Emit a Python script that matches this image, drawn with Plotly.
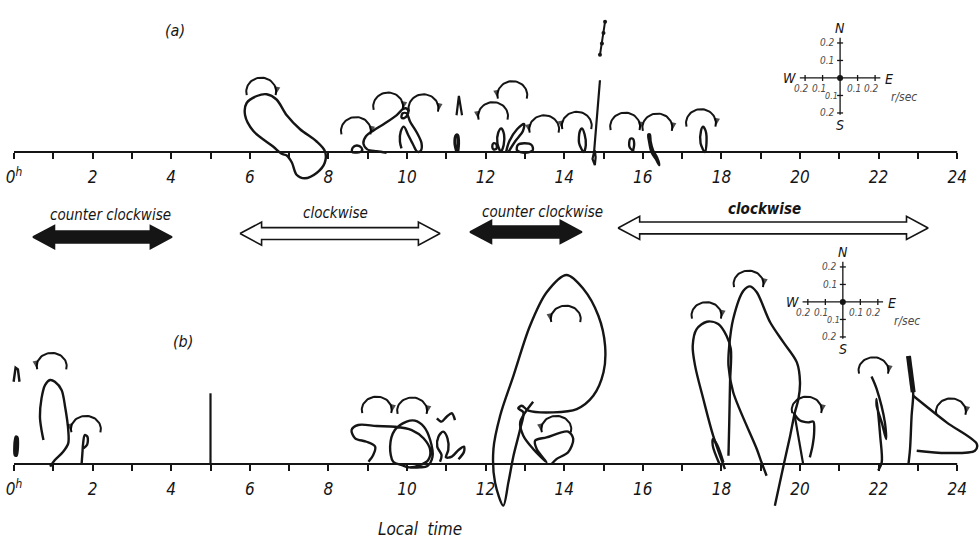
import numpy as np
import plotly.graph_objects as go

# ---------------------------------------------------------------
# Local-time axis
# ---------------------------------------------------------------
hour_ticks = [0, 2, 4, 6, 8, 10, 12, 14, 16, 18, 20, 22, 24]
hour_text = ["0<sup>h</sup>", "2", "4", "6", "8", "10", "12", "14", "16", "18", "20", "22", "24"]

# ---------------------------------------------------------------
# (a) hodograph traces: local time [h] , velocity offset [r/sec]
# ---------------------------------------------------------------
a_loop1_t = [6.81, 6.60, 6.09, 5.88, 5.92, 6.18, 6.43, 6.68, 6.94, 7.28, 7.70, 7.91, 7.91, 7.70, 7.40, 7.19, 7.07, 6.94, 6.81]
a_loop1_v = [-0.01, 0.03, 0.12, 0.21, 0.28, 0.32, 0.33, 0.30, 0.21, 0.13, 0.06, 0.005, -0.06, -0.12, -0.15, -0.13, -0.06, -0.02, -0.01]
a_loop2_t = [8.60, 8.62, 8.72, 8.84, 8.85, 8.72, 8.60]
a_loop2_v = [0.0, 0.025, 0.037, 0.025, 0.005, -0.003, 0.0]
a_loop3_t = [9.48, 9.23, 8.99, 8.89, 8.96, 9.14, 9.44, 9.74, 9.89, 9.97, 10.03, 10.01, 9.92, 9.86, 9.89, 9.99,
             10.08, 10.26, 10.37, 10.35, 10.26, 10.16, 10.03, 9.92, 9.84, 9.82, 9.86]
a_loop3_v = [-0.004, 0.004, 0.015, 0.05, 0.091, 0.122, 0.164, 0.211, 0.244, 0.25, 0.236, 0.211, 0.193, 0.198, 0.221, 0.221,
             0.173, 0.107, 0.05, 0.007, 0.002, 0.04, 0.097, 0.145, 0.116, 0.059, 0.021]
a_loop4_t = [11.27, 11.22, 11.25, 11.29, 11.31, 11.29]
a_loop4_v = [0.0, 0.05, 0.095, 0.095, 0.05, 0.0]
a_loop5_t = [11.26, 11.32, 11.40]
a_loop5_v = [0.21, 0.32, 0.21]
a_loop6_t = [12.17, 12.20, 12.27, 12.28, 12.20, 12.17]
a_loop6_v = [0.03, 0.05, 0.045, 0.02, 0.015, 0.03]
a_loop7_t = [12.38, 12.30, 12.32, 12.40, 12.47, 12.46, 12.40]
a_loop7_v = [0.0, 0.05, 0.11, 0.135, 0.10, 0.04, 0.0]
a_loop8_t = [12.52, 12.60, 12.80, 12.98, 12.95, 12.75, 12.58]
a_loop8_v = [0.0, 0.06, 0.13, 0.16, 0.12, 0.06, 0.0]
a_loop9_t = [12.80, 12.82, 12.98, 13.17, 13.20, 13.00, 12.80]
a_loop9_v = [0.01, 0.04, 0.05, 0.04, 0.01, -0.005, 0.01]
a_loop10_t = [14.50, 14.38, 14.40, 14.45, 14.52, 14.55, 14.50]
a_loop10_v = [0.0, 0.05, 0.12, 0.135, 0.10, 0.04, 0.0]
a_loop11_t = [14.91, 14.76, 14.72, 14.78, 14.80, 14.78]
a_loop11_v = [0.41, 0.0, -0.04, -0.075, -0.03, 0.01]
a_loop12_t = [14.91, 14.96, 15.00, 15.04]
a_loop12_v = [0.555, 0.62, 0.68, 0.745]
a_loop13_t = [15.78, 15.66, 15.68, 15.75, 15.78, 15.74]
a_loop13_v = [0.0, 0.03, 0.075, 0.075, 0.04, 0.0]
a_loop14_t = [16.18, 16.14, 16.16, 16.22, 16.33, 16.42, 16.36, 16.26, 16.20, 16.18]
a_loop14_v = [0.10, 0.10, 0.06, 0.0, -0.04, -0.075, -0.03, 0.01, 0.06, 0.10]
a_loop15_t = [17.58, 17.47, 17.48, 17.53, 17.60, 17.62, 17.58]
a_loop15_v = [0.0, 0.05, 0.12, 0.145, 0.12, 0.05, 0.0]

# sense-of-rotation arcs above the (a) hodographs
a_arc_t = [6.29, 8.70, 9.52, 10.42, 12.19, 12.68, 13.49, 14.32, 15.55, 16.37, 17.48]
a_arc_v = [0.345, 0.12, 0.26, 0.25, 0.205, 0.325, 0.13, 0.15, 0.145, 0.14, 0.165]
a_arc_sense = ["cw", "cw", "cw", "cw", "ccw", "ccw", "ccw", "ccw", "cw", "cw", "cw"]

# ---------------------------------------------------------------
# (b) hodograph traces
# ---------------------------------------------------------------
b_loop1_t = [0.03, 0.05, 0.08, 0.06, 0.03]
b_loop1_v = [0.05, 0.155, 0.15, 0.05, 0.05]
b_loop2_t = [-0.01, 0.04, 0.10, 0.14]
b_loop2_v = [0.47, 0.55, 0.54, 0.47]
b_loop3_t = [0.92, 1.04, 1.25, 1.38, 1.38, 1.30, 1.21, 1.04, 0.92, 0.79, 0.70, 0.66, 0.70, 0.75]
b_loop3_v = [-0.015, 0.023, 0.07, 0.118, 0.194, 0.327, 0.423, 0.47, 0.48, 0.451, 0.375, 0.27, 0.194, 0.137]
b_loop4_t = [1.72, 1.74, 1.76, 1.80, 1.87, 1.86, 1.77]
b_loop4_v = [0.0, 0.06, 0.12, 0.165, 0.155, 0.11, 0.09]
b_loop5_t = [5.00, 5.00]
b_loop5_v = [0.404, 0.0]
b_loop6_t = [9.02, 9.14, 9.19, 8.97, 8.68, 8.59, 8.76, 9.23, 9.69, 10.12, 10.42, 10.59, 10.54, 10.33, 10.03, 9.87,
             9.65, 9.57, 9.69, 9.99, 10.20, 10.43, 10.59, 10.65, 10.52, 10.33, 10.08]
b_loop6_v = [0.013, 0.051, 0.099, 0.127, 0.147, 0.194, 0.223, 0.217, 0.213, 0.194, 0.147, 0.08, 0.023, -0.006, -0.019, -0.006,
             0.013, 0.099, 0.194, 0.242, 0.248, 0.213, 0.137, 0.042, -0.011, -0.019, -0.02]
b_loop7_t = [10.84, 10.88, 10.77, 10.80, 10.92, 11.03, 11.05, 10.99, 11.14, 11.31, 11.45, 11.45, 11.31]
b_loop7_v = [0.013, 0.051, 0.099, 0.156, 0.185, 0.147, 0.08, 0.038, 0.042, 0.08, 0.099, 0.07, 0.027]
b_loop8_t = [10.76, 10.88, 11.01, 11.14, 11.22]
b_loop8_v = [0.261, 0.242, 0.27, 0.29, 0.251]
b_loop9_t = [14.06, 13.55, 13.13, 12.71, 12.37, 12.20, 12.24, 12.45, 12.58, 12.71, 12.88, 12.96, 12.83, 12.92, 13.09,
             13.72, 14.32, 14.74, 15.00, 15.04, 14.87, 14.49, 14.06]
b_loop9_v = [1.08, 0.98, 0.79, 0.505, 0.276, 0.086, -0.105, -0.238, -0.105, 0.047, 0.20, 0.295, 0.318, 0.333, 0.305,
             0.295, 0.314, 0.39, 0.524, 0.676, 0.847, 1.0, 1.08]
b_loop10_t = [13.21, 12.88, 12.96, 13.21, 13.55, 13.30, 13.26, 13.55, 14.10, 14.23, 14.10, 13.81, 13.68]
b_loop10_v = [0.356, 0.238, 0.162, 0.086, 0.01, 0.086, 0.133, 0.152, 0.185, 0.143, 0.067, 0.029, 0.0]
b_loop11_t = [18.09, 17.79, 17.54, 17.33, 17.27, 17.37, 17.63, 17.92, 18.13, 18.24, 18.22, 18.20, 18.18]
b_loop11_v = [-0.029, 0.162, 0.371, 0.562, 0.676, 0.771, 0.813, 0.80, 0.733, 0.657, 0.467, 0.238, 0.047]
b_loop12_t = [17.95, 17.78, 17.79, 17.90, 18.05]
b_loop12_v = [0.0, 0.105, 0.143, 0.105, 0.01]
b_loop13_t = [19.15, 19.02, 18.90, 18.30, 18.18, 18.20, 18.30, 18.56, 18.73, 18.90, 19.24, 19.58, 19.92, 20.00,
              19.96, 19.87, 19.75, 19.58, 19.36]
b_loop13_v = [-0.067, 0.01, 0.086, 0.41, 0.562, 0.676, 0.829, 0.99, 1.015, 0.981, 0.81, 0.695, 0.581, 0.467,
              0.371, 0.295, 0.162, -0.01, -0.238]
b_loop14_t = [19.83, 20.00, 20.21, 20.34, 20.36, 20.32, 20.25]
b_loop14_v = [0.295, 0.248, 0.238, 0.242, 0.181, 0.105, 0.038]
b_loop15_t = [19.87, 20.08]
b_loop15_v = [0.27, 0.0]
b_loop16_t = [21.82, 21.95, 22.16, 22.19, 22.08, 21.95, 21.95, 22.04, 22.08, 21.99]
b_loop16_v = [0.50, 0.429, 0.238, 0.143, 0.238, 0.333, 0.371, 0.162, 0.01, -0.038]
b_loop17_t = [22.76, 22.88, 22.84, 22.80, 22.76]
b_loop17_v = [0.617, 0.41, 0.276, 0.086, 0.0]
b_loop18_t = [22.88, 23.73, 24.50, 24.45, 23.73, 22.97]
b_loop18_v = [0.39, 0.238, 0.114, 0.076, 0.063, 0.076]

b_arc_t = [0.96, 1.83, 9.23, 10.13, 13.80, 14.04, 17.62, 18.69, 20.17, 21.87, 23.84]
b_arc_v = [0.56, 0.20, 0.31, 0.305, 0.20, 0.83, 0.85, 1.03, 0.31, 0.535, 0.30]
b_arc_sense = ["ccw", "ccw", "cw", "cw", "ccw", "ccw", "cw", "cw", "cw", "cw", "cw"]

# rotation-sense intervals shown between the panels
band_start = [0.48, 5.75, 11.60, 15.37]
band_end = [4.02, 10.84, 14.45, 23.26]
band_label = ["counter clockwise", "clockwise", "counter clockwise", "clockwise"]
band_filled = [True, False, True, False]

# ---------------------------------------------------------------
# geometry / style
# ---------------------------------------------------------------
W, H = 979, 550
PX_PER_HOUR = 39.3
PX_PER_RSEC = 175.0
X0_PX = 14
BASE_A_PX = 152
BASE_B_PX = 464
HOURS_PER_RSEC = PX_PER_RSEC / PX_PER_HOUR

INK = "#151515"
GREY = "#4a4a4a"
FONT = "Liberation Sans Narrow, DejaVu Sans Condensed, Liberation Sans, sans-serif"

x_range = [-X0_PX / PX_PER_HOUR, (W - X0_PX) / PX_PER_HOUR]
ya_range = [-(H - BASE_A_PX) / PX_PER_RSEC, BASE_A_PX / PX_PER_RSEC]
yb_range = [-(H - BASE_B_PX) / PX_PER_RSEC, BASE_B_PX / PX_PER_RSEC]

AXES = {"a": ("x", "y"), "b": ("x2", "y2")}

fig = go.Figure()


def add_path(t, v, panel, width=2.4, spline=True, markers=False):
    xa, ya = AXES[panel]
    fig.add_trace(go.Scatter(
        x=t, y=v, xaxis=xa, yaxis=ya,
        mode="lines+markers" if markers else "lines",
        line=dict(color=INK, width=width, shape="spline" if spline else "linear", smoothing=0.9),
        marker=dict(size=4, color=INK),
        hoverinfo="skip", showlegend=False))


def add_arc(tc, vb, sense, panel, half=0.38, rise=0.08):
    xa, ya = AXES[panel]
    th = np.linspace(-0.08 * np.pi, 1.08 * np.pi, 40)
    x = tc - half * np.cos(th)
    y = vb + rise * np.sin(th)
    if sense == "ccw":
        x, y = x[::-1], y[::-1]
    sizes = [0] * (len(x) - 1) + [9]
    fig.add_trace(go.Scatter(
        x=x, y=y, xaxis=xa, yaxis=ya, mode="lines+markers",
        line=dict(color=INK, width=2),
        marker=dict(symbol="arrow", size=sizes, angleref="previous", color="black",
                    line=dict(width=0)),
        hoverinfo="skip", showlegend=False))


# (a) loops
for t, v in [(a_loop1_t, a_loop1_v), (a_loop2_t, a_loop2_v), (a_loop3_t, a_loop3_v),
             (a_loop6_t, a_loop6_v), (a_loop7_t, a_loop7_v), (a_loop8_t, a_loop8_v),
             (a_loop9_t, a_loop9_v), (a_loop10_t, a_loop10_v), (a_loop13_t, a_loop13_v),
             (a_loop14_t, a_loop14_v), (a_loop15_t, a_loop15_v)]:
    add_path(t, v, "a")
add_path(a_loop4_t, a_loop4_v, "a", width=3.2)
add_path(a_loop5_t, a_loop5_v, "a", width=2.2, spline=False)
add_path(a_loop11_t, a_loop11_v, "a", width=2.2, spline=False)
add_path(a_loop12_t, a_loop12_v, "a", width=2.0, spline=False, markers=True)

for tc, vb, s in zip(a_arc_t, a_arc_v, a_arc_sense):
    add_arc(tc, vb, s, "a")

# (b) loops
for t, v in [(b_loop3_t, b_loop3_v), (b_loop4_t, b_loop4_v), (b_loop6_t, b_loop6_v),
             (b_loop7_t, b_loop7_v), (b_loop8_t, b_loop8_v), (b_loop9_t, b_loop9_v),
             (b_loop10_t, b_loop10_v), (b_loop11_t, b_loop11_v), (b_loop12_t, b_loop12_v),
             (b_loop13_t, b_loop13_v), (b_loop14_t, b_loop14_v), (b_loop16_t, b_loop16_v),
             (b_loop18_t, b_loop18_v)]:
    add_path(t, v, "b")
add_path(b_loop1_t, b_loop1_v, "b", width=3.2)
add_path(b_loop2_t, b_loop2_v, "b", width=2.4, spline=False)
add_path(b_loop5_t, b_loop5_v, "b", width=2.2, spline=False)
add_path(b_loop15_t, b_loop15_v, "b", width=2.2, spline=False)
add_path(b_loop17_t, b_loop17_v, "b", width=2.4)
add_path(b_loop17_t[:2], b_loop17_v[:2], "b", width=5, spline=False)

for tc, vb, s in zip(b_arc_t, b_arc_v, b_arc_sense):
    add_arc(tc, vb, s, "b", rise=0.075)

# ---------------------------------------------------------------
# double-headed band arrows and their labels (panel (a) units)
# ---------------------------------------------------------------
band_level = [-0.486, -0.466, -0.457, -0.434]
band_text_level = [-0.36, -0.349, -0.343, -0.326]
band_text_hour = [2.45, 8.19, 13.46, 19.10]
HEAD_LEN, SHAFT, HEAD = 0.55, 0.034, 0.066

for x0, x1, yc, filled in zip(band_start, band_end, band_level, band_filled):
    xs = [x0, x0 + HEAD_LEN, x0 + HEAD_LEN, x1 - HEAD_LEN, x1 - HEAD_LEN, x1,
          x1 - HEAD_LEN, x1 - HEAD_LEN, x0 + HEAD_LEN, x0 + HEAD_LEN, x0]
    ys = [yc, yc + HEAD, yc + SHAFT, yc + SHAFT, yc + HEAD, yc,
          yc - HEAD, yc - SHAFT, yc - SHAFT, yc - HEAD, yc]
    fig.add_trace(go.Scatter(
        x=xs, y=ys, mode="lines", fill="toself",
        fillcolor=INK if filled else "white",
        line=dict(color=INK, width=1.6), hoverinfo="skip", showlegend=False))

annotations = []
for i, (lab, tx, ty) in enumerate(zip(band_label, band_text_hour, band_text_level)):
    txt = f"<i>{lab}</i>" if i < 3 else f"<b><i>{lab}</i></b>"
    annotations.append(dict(x=tx, y=ty, xref="x", yref="y", text=txt, showarrow=False,
                            font=dict(family=FONT, size=15, color=INK)))

# ---------------------------------------------------------------
# N-S / W-E velocity scale crosses
# ---------------------------------------------------------------
compass_center = {"a": (21.02, 0.423), "b": (21.09, 0.926)}
ARM_UP, ARM_DN, ARM_H = 0.23, 0.21, 0.23
TK_H = 3 / PX_PER_HOUR
TK_V = 3 / PX_PER_RSEC

for panel, (h0, v0) in compass_center.items():
    xa, ya = AXES[panel]
    xr, yr = xa, ya
    xs = [h0, h0, None, h0 - ARM_H * HOURS_PER_RSEC, h0 + ARM_H * HOURS_PER_RSEC]
    ys = [v0 + ARM_UP, v0 - ARM_DN, None, v0, v0]
    for q in (-0.2, -0.1, 0.1, 0.2):
        xs += [None, h0 - TK_H, h0 + TK_H, None, h0 + q * HOURS_PER_RSEC, h0 + q * HOURS_PER_RSEC]
        ys += [None, v0 + q, v0 + q, None, v0 - TK_V, v0 + TK_V]
    fig.add_trace(go.Scatter(x=xs, y=ys, xaxis=xa, yaxis=ya, mode="lines",
                             line=dict(color=INK, width=1.3), hoverinfo="skip", showlegend=False))
    fig.add_trace(go.Scatter(x=[h0], y=[v0], xaxis=xa, yaxis=ya, mode="markers",
                             marker=dict(size=6, color=INK), hoverinfo="skip", showlegend=False))

    def lab(x, y, text, xs=0, ys=0, size=10, color=GREY):
        annotations.append(dict(x=x, y=y, xref=xr, yref=yr, text=f"<i>{text}</i>", showarrow=False,
                                xshift=xs, yshift=ys, font=dict(family=FONT, size=size, color=color)))

    lab(h0, v0 + ARM_UP, "N", ys=10, size=14, color=INK)
    lab(h0, v0 - ARM_DN, "S", ys=-10, size=14, color=INK)
    lab(h0 - ARM_H * HOURS_PER_RSEC, v0, "W", xs=-10, size=14, color=INK)
    lab(h0 + ARM_H * HOURS_PER_RSEC, v0, "E", xs=9, ys=-1, size=14, color=INK)
    lab(h0 + ARM_H * HOURS_PER_RSEC, v0, "r/sec", xs=24, ys=-19, size=12)
    lab(h0, v0 + 0.2, "0.2", xs=-13)
    lab(h0, v0 + 0.1, "0.1", xs=-13)
    lab(h0, v0 - 0.2, "0.2", xs=-13)
    lab(h0, v0 - 0.1, "0.1", xs=-9, ys=-1, size=9)
    for q in (-0.2, -0.1, 0.1, 0.2):
        lab(h0 + q * HOURS_PER_RSEC, v0, f"{abs(q):.1f}", xs=-4, ys=-11)

# panel letters and time caption
annotations += [
    dict(x=163 / W, y=1 - 19 / H, xref="paper", yref="paper", text="<i>(a)</i>", showarrow=False,
         font=dict(family=FONT, size=16, color=INK)),
    dict(x=171 / W, y=1 - 341 / H, xref="paper", yref="paper", text="<i>(b)</i>", showarrow=False,
         font=dict(family=FONT, size=16, color=INK)),
    dict(x=420 / W, y=1 - 541 / H, xref="paper", yref="paper", text="<i>Local  time</i>", showarrow=False,
         font=dict(family=FONT, size=17, color=INK)),
]

# baselines of both panels, 0h - 24h
shapes = [
    dict(type="line", xref="x", yref="y", x0=0, x1=24, y0=0, y1=0, line=dict(color=INK, width=2)),
    dict(type="line", xref="x2", yref="y2", x0=0, x1=24, y0=0, y1=0, line=dict(color=INK, width=2)),
]

time_axis = dict(range=x_range, domain=[0, 1], showgrid=False, zeroline=False, showline=False,
                 tickmode="array", tickvals=hour_ticks, ticktext=hour_text, ticks="outside",
                 ticklen=6, tickwidth=1.5, tickcolor=INK, ticklabelstandoff=4,
                 tickfont=dict(family=FONT, size=17, color=INK, style="italic"),
                 minor=dict(tick0=1, dtick=2, ticks="outside", ticklen=6, tickwidth=1.5,
                            tickcolor=INK, showgrid=False),
                 anchor="free", fixedrange=True)

fig.update_layout(
    width=W, height=H,
    margin=dict(l=0, r=0, t=0, b=0),
    paper_bgcolor="white", plot_bgcolor="white",
    showlegend=False,
    xaxis=dict(time_axis, position=1 - BASE_A_PX / H),
    xaxis2=dict(time_axis, position=1 - BASE_B_PX / H, overlaying="x"),
    yaxis=dict(range=ya_range, domain=[0, 1], visible=False, fixedrange=True),
    yaxis2=dict(range=yb_range, domain=[0, 1], visible=False, overlaying="y", fixedrange=True),
    annotations=annotations,
    shapes=shapes,
)

fig.write_html("out.html")
